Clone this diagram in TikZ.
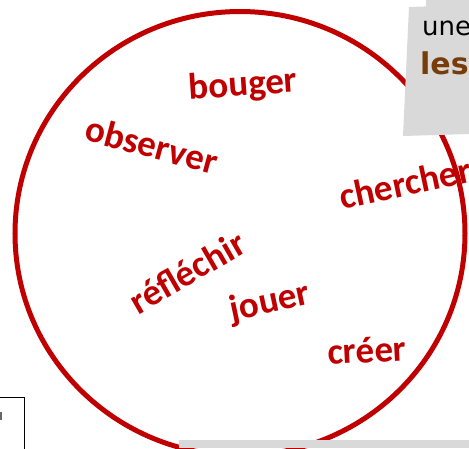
\documentclass[tikz,border=0pt]{standalone}
\usepackage{fontspec}
\setmainfont{Carlito}
\newfontfamily\boxfont{DejaVu Sans}
\definecolor{wordred}{RGB}{192,0,0}
\definecolor{boxgrey}{RGB}{217,217,217}
\definecolor{lesbrown}{RGB}{120,60,10}
\begin{document}
\begin{tikzpicture}[x=1pt,y=-1pt,
  word/.style={text=wordred,font=\fontsize{37}{42}\selectfont\bfseries,inner sep=0pt}]
\useasboundingbox (0,0) rectangle (469,448);
% circle
\draw[wordred,line width=5pt] (240,233.5) ellipse [x radius=225, y radius=222];
% words
\node[word,rotate=4]   (bouger)    at (243,86)  {bouger};
\node[word,rotate=-15] (observer)  at (152,145) {observer};
\node[word,rotate=12]  (chercher)  at (405,183) {chercher};
\node[word,rotate=30]  (reflechir) at (187,272) {réfléchir};
\node[word,rotate=12]  (jouer)     at (270,303) {jouer};
\node[word,rotate=3]   (creer)     at (367,350) {créer};
% top-right grey box
\fill[boxgrey] (426,0) -- (469,0) -- (469,8) -- (426,8) -- cycle;
\fill[boxgrey] (409,7) -- (469,5) -- (469,134) -- (403,136) -- cycle;
\node[anchor=base west,inner sep=0pt,font=\boxfont\fontsize{26}{30}\selectfont] (une) at (422,35) {une};
\node[anchor=base west,inner sep=0pt,font=\boxfont\fontsize{30}{34}\selectfont\bfseries,text=lesbrown] (les) at (420,74) {les};
% bottom grey box
\fill[boxgrey] (179,440) rectangle (469,448);
% bottom-left framed box
\draw[black,line width=0.8pt] (-5,397) -- (24.5,397) -- (24.5,450);
\fill[gray!80!black] (0,412) rectangle (2,420);
\end{tikzpicture}
\end{document}
